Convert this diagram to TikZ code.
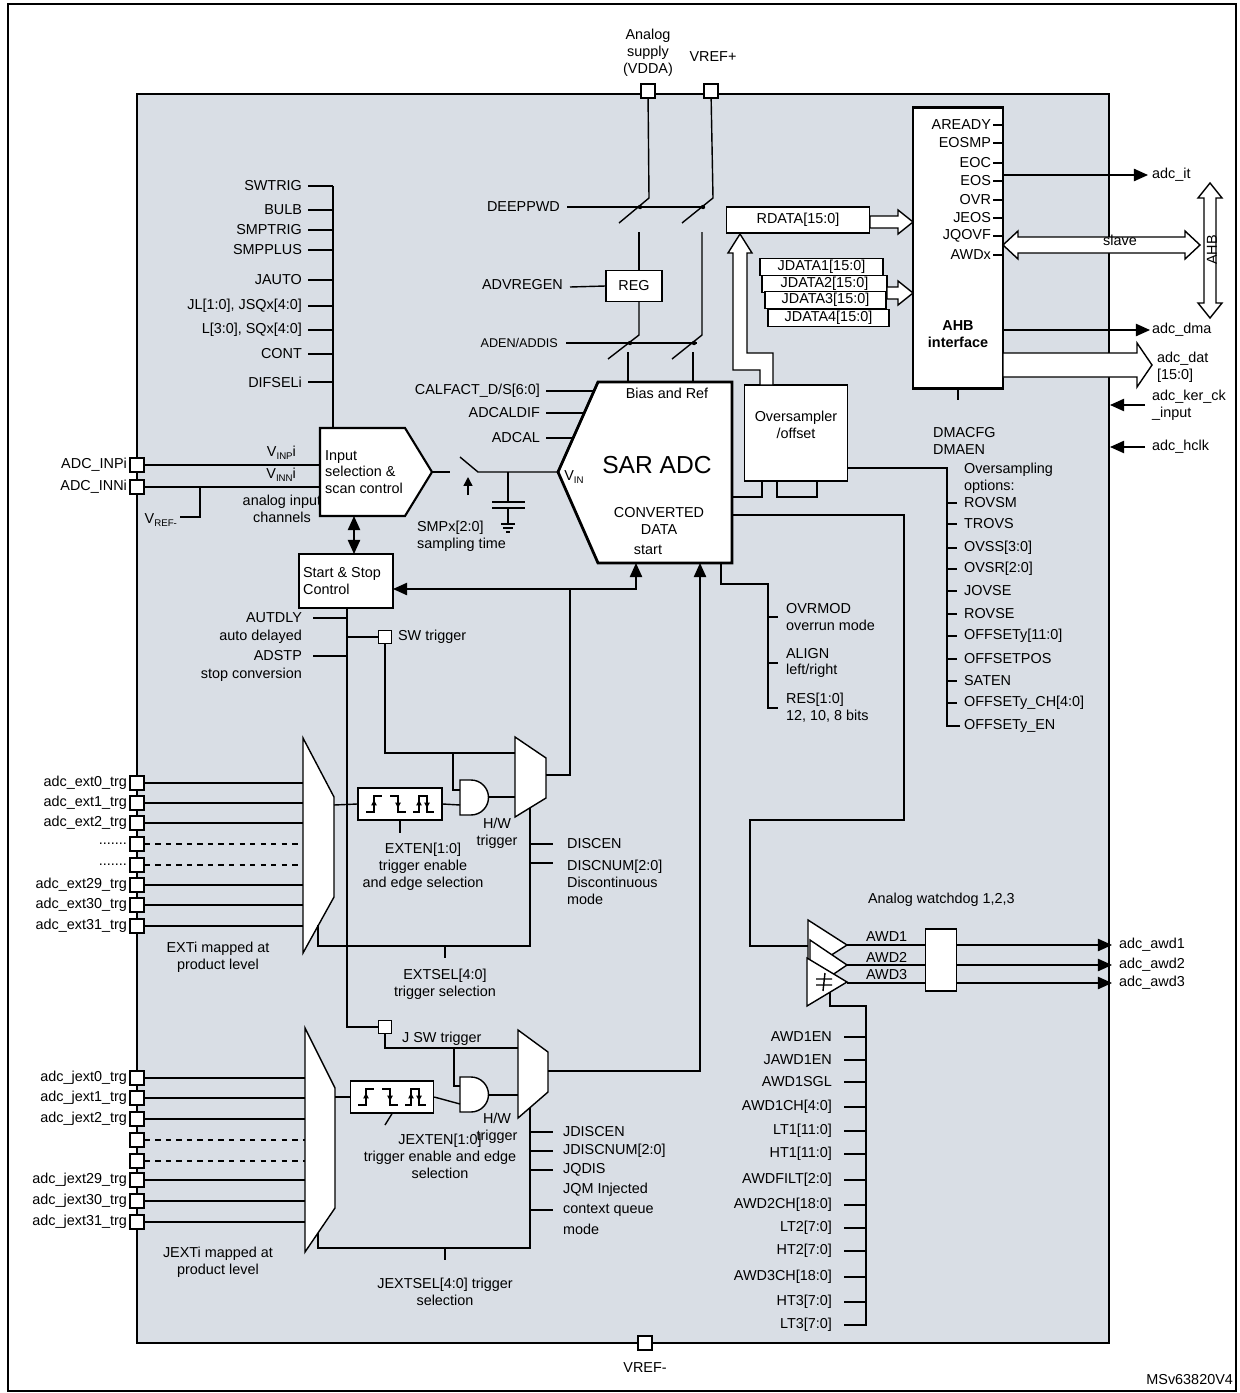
\documentclass[tikz,border=0pt]{standalone}
\usepackage{fontspec}
\setmainfont{Liberation Sans}
\usetikzlibrary{arrows.meta,positioning,calc}
\definecolor{adcgrey}{RGB}{217,222,229}
\tikzset{
    every node/.style={font=\fontsize{8.2}{9.6}\selectfont, inner sep=1pt},
    wire/.style={line width=0.8pt},
    blk/.style={draw, fill=white, line width=1.2pt},
    reg/.style={draw, fill=white, line width=0.8pt, inner sep=0pt},
    pinbox/.style={draw, fill=white, line width=0.8pt, minimum size=0.28cm, inner sep=0pt},
    sig/.style={wire, -{Triangle[length=8pt,width=7pt]}},
    tip/.style={line width=0.6pt, -{Triangle[length=3pt,width=3pt]}},
    bus/.style={draw, fill=white, line width=0.8pt}
}
% hollow bus arrows: x1, x2, y, shaft half width, head half width
\newcommand{\busright}[5]{\draw[bus] (#1,#3-#4) -- (#2-15,#3-#4) -- (#2-15,#3-#5) -- (#2,#3) -- (#2-15,#3+#5) -- (#2-15,#3+#4) -- (#1,#3+#4) -- cycle;}
\newcommand{\busboth}[5]{\draw[bus] (#1,#3) -- (#1+15,#3-#5) -- (#1+15,#3-#4) -- (#2-15,#3-#4) -- (#2-15,#3-#5) -- (#2,#3) -- (#2-15,#3+#5) -- (#2-15,#3+#4) -- (#1+15,#3+#4) -- (#1+15,#3+#5) -- cycle;}
\newcommand{\busvert}[5]{\draw[bus] (#1,#2) -- (#1+#5,#2+15) -- (#1+#4,#2+15) -- (#1+#4,#3-15) -- (#1+#5,#3-15) -- (#1,#3) -- (#1-#5,#3-15) -- (#1-#4,#3-15) -- (#1-#4,#2+15) -- (#1-#5,#2+15) -- cycle;}
% gates and edge marks
\newcommand{\andgate}[2]{\draw[bus] (#1,#2) -- ++(11,0) arc[start angle=90, end angle=-90, radius=0.35cm] -- ++(-11,0) -- cycle;}
\newcommand{\edgemarks}[2]{
    \begin{scope}[shift={(#1,#2)}]
    \draw[wire] (0,8) -- (8,8) -- (8,-8) -- (16,-8);
    \draw[wire] (24,-8) -- (32,-8) -- (32,8) -- (40,8);
    \draw[wire] (47,8) -- (53,8) -- (53,-8) -- (61,-8) -- (61,8) -- (68,8);
    \draw[tip] (8,5) -- (8,-4);
    \draw[tip] (32,-5) -- (32,4);
    \draw[tip] (53,5) -- (53,-4);
    \draw[tip] (61,-5) -- (61,4);
    \end{scope}
}
\newcommand{\dotrow}{.......}

\begin{document}
\begin{tikzpicture}[x=0.02cm, y=-0.02cm]
    \useasboundingbox (0,0) rectangle (1240,1393);
    \draw[line width=1pt] (8,4) rectangle (1236,1391);
    \draw[line width=1.6pt, fill=adcgrey] (137,94) rectangle (1109,1343);
    \node[anchor=east] at (1235,1380) {MSv63820V4};

    % supply pins
    \node[pinbox] (vdda) at (648,91) {};
    \node[pinbox] (vrefp) at (711,91) {};
    \node[pinbox] (vrefm) at (645,1343) {};
    \node[align=center] at (648,53) {Analog\\supply\\(VDDA)};
    \node at (713,57) {VREF+};
    \node at (645,1368) {VREF-};

    % power switches
    \draw[wire] (567,207) -- (705,207);
    \draw[wire] (566,343) -- (697,343);
    \node[anchor=east] at (562,207) {DEEPPWD};
    \node[anchor=east, font=\fontsize{7.2}{8}\selectfont] at (560,343) {ADEN/ADDIS};
    \node[reg, minimum width=1.12cm, minimum height=0.62cm] (regu) at (634,286) {REG};
    \node[anchor=east] at (565,285) {ADVREGEN};
    \draw[wire] (570,287) -- (regu.west);
    \draw[wire] (vdda) -- (649,198) -- (619,223);
    \draw[wire] (vrefp) -- (713,198) -- (682,223);
    \draw[wire] (639,232) -- (639,271);
    \draw[wire] (639,302) -- (639,335) -- (608,359);
    \draw[wire] (702,232) -- (702,335) -- (672,359);
    \draw[wire] (628,352) -- (628,382);
    \draw[wire] (693,352) -- (693,382);
    \foreach \x/\y in {640/207, 703/207, 630/343, 694/343}
        \fill (\x,\y) circle (2.2);

    % control inputs of the scan logic
    \draw[wire] (333,186) -- (333,428);
    \foreach \y/\t in {186/SWTRIG, 210/BULB, 230/SMPTRIG, 250/SMPPLUS, 280/JAUTO,
                       306/{JL[1:0], JSQx[4:0]}, 330/{L[3:0], SQx[4:0]}, 354/CONT, 382/DIFSELi}{
        \draw[wire] (308,\y) -- (333,\y);
        \node[anchor=east] at (304,\y) {\t};
    }

    % analog inputs
    \node[pinbox] (inp) at (137,465) {};
    \node[pinbox] (inn) at (137,487) {};
    \node[anchor=east] at (129,465) {ADC\_INPi};
    \node[anchor=east] at (129,487) {ADC\_INNi};
    \draw[blk] (320,428) -- (405,428) -- (432,472) -- (405,516) -- (320,516) -- cycle;
    \node[anchor=west, align=left] (insel) at (323,472) {Input\\selection \&\\scan control};
    \draw[wire] (inp) -- (320,465);
    \draw[wire] (inn) -- (320,487);
    \draw[wire] (200,487) -- (200,517) -- (180,517);
    \node[anchor=east] at (179,520) {V\raisebox{-0.4ex}{\fontsize{5.5}{6}\selectfont REF-}};
    \node[anchor=east] at (298,453) {V\raisebox{-0.4ex}{\fontsize{5.5}{6}\selectfont INP}i};
    \node[anchor=east] at (298,475) {V\raisebox{-0.4ex}{\fontsize{5.5}{6}\selectfont INN}i};
    \node[align=center] at (282,509) {analog input\\channels};

    % sampling switch and capacitor
    \draw[wire] (432,472) -- (450,472);
    \draw[wire] (460,457) -- (478,472) -- (558,472);
    \draw[line width=0.8pt, -{Triangle[length=5pt,width=5pt]}] (468,495) -- (468,477);
    \draw[wire] (508,472) -- (508,502);
    \draw[wire] (492,502) -- (525,502);
    \draw[wire] (492,508) -- (525,508) (508,508) -- (508,524);
    \draw[wire] (501,524) -- (515,524) (503,528) -- (513,528) (506,532) -- (510,532);
    \node[anchor=west, align=left] at (415,536) {SMPx[2:0]\\sampling time};

    % SAR ADC
    \draw[blk, line width=1.6pt] (598,382) -- (732,382) -- (732,563) -- (598,563) -- (558,472) -- cycle;
    \node at (667,393) {Bias and Ref};
    \node[font=\fontsize{14}{16}\selectfont] (sar) at (657,465) {SAR ADC};
    \node at (574,477) {V\raisebox{-0.4ex}{\fontsize{5.5}{6}\selectfont IN}};
    \node[align=center] at (659,521) {CONVERTED\\DATA};
    \node at (648,550) {start};
    \foreach \y/\x/\t in {391/594/{CALFACT\_D/S[6:0]}, 413/584/ADCALDIF, 438/573/ADCAL}{
        \draw[wire] (546,\y) -- (\x,\y);
        \node[anchor=east] at (542,\y) {\t};
    }

    % start and stop control
    \node[blk, line width=1.2pt, minimum width=1.88cm, minimum height=1.08cm] (ssc) at (346,581) {};
    \node[anchor=west, align=left] at (301,581) {Start \& Stop\\Control};
    \draw[wire, {Triangle[length=8pt,width=7pt]}-{Triangle[length=8pt,width=7pt]}] (354,516) -- (354,554);
    \draw[sig] (570,589) -- (393,589);
    \draw[sig] (570,589) -| (636,563);
    \draw[wire] (347,608) -- (347,1027) -- (378,1027);
    \draw[wire] (313,618) -- (347,618);
    \draw[wire] (313,656) -- (347,656);
    \foreach \y/\t in {618/AUTDLY, 637/auto delayed, 656/ADSTP, 675/stop conversion}
        \node[anchor=east] at (304,\y) {\t};
    \node[pinbox, minimum size=0.26cm] (swt) at (385,637) {};
    \draw[wire] (347,637) -- (swt);
    \node[anchor=west] at (396,637) {SW trigger};

    % regular trigger path
    \foreach \i/\y/\t/\s in {0/783/adc\_ext0\_trg/solid, 1/803/adc\_ext1\_trg/solid, 2/823/adc\_ext2\_trg/solid,
                             3/844/\dotrow/dashed, 4/865/\dotrow/dashed, 29/885/adc\_ext29\_trg/solid,
                             30/905/adc\_ext30\_trg/solid, 31/926/adc\_ext31\_trg/solid}{
        \node[pinbox] (ext\i) at (137,\y) {};
        \node[anchor=east] at (129,\y) {\t};
        \draw[wire, \s] (ext\i) -- (303,\y);
    }
    \draw[bus] (303,738) -- (334,797) -- (334,897) -- (303,953) -- cycle;
    \node[align=center] at (218,957) {EXTi mapped at\\product level};
    \node[reg, minimum width=1.68cm, minimum height=0.64cm] (edge) at (400,804) {};
    \edgemarks{366}{804}
    \draw[wire] (334,805) -- (edge.west);
    \andgate{460}{780}
    \draw[wire] (edge.east) -- (460,805);
    \draw[bus] (515,737) -- (546,758) -- (546,798) -- (515,817) -- cycle;
    \draw[wire] (swt) -- (385,753) -- (515,753);
    \draw[wire] (453,753) -- (453,790) -- (460,790);
    \draw[wire] (488,797) -- (515,797);
    \draw[wire] (546,775) -- (570,775) -- (570,589);
    \draw[wire] (edge.south) -- (400,833);
    \node[align=center] at (423,867) {EXTEN[1:0]\\trigger enable\\and edge selection};
    \node[align=center] at (497,833) {H/W\\trigger};
    \draw[wire] (530,808) -- (530,946) -- (318,946) -- (318,925);
    \draw[wire] (445,946) -- (445,958);
    \node[align=center] at (445,984) {EXTSEL[4:0]\\trigger selection};
    \draw[wire] (530,844) -- (553,844);
    \draw[wire] (530,863) -- (553,863);
    \node[anchor=west] at (565,844) {DISCEN};
    \node[anchor=west, align=left] at (565,882) {DISCNUM[2:0]\\Discontinuous\\mode};

    % injected trigger path
    \foreach \i/\y/\t/\s in {0/1078/adc\_jext0\_trg/solid, 1/1098/adc\_jext1\_trg/solid, 2/1119/adc\_jext2\_trg/solid,
                             3/1140/{}/dashed, 4/1161/{}/dashed, 29/1180/adc\_jext29\_trg/solid,
                             30/1201/adc\_jext30\_trg/solid, 31/1222/adc\_jext31\_trg/solid}{
        \node[pinbox] (jext\i) at (137,\y) {};
        \node[anchor=east] at (129,\y) {\t};
        \draw[wire, \s] (jext\i) -- (305,\y);
    }
    \draw[bus] (305,1028) -- (335,1088) -- (335,1208) -- (305,1252) -- cycle;
    \node[align=center] at (218,1262) {JEXTi mapped at\\product level};
    \node[pinbox, minimum size=0.26cm] (jswt) at (385,1027) {};
    \node[anchor=west] at (400,1039) {J SW trigger};
    \node[reg, minimum width=1.66cm, minimum height=0.64cm] (jedge) at (392,1097) {};
    \edgemarks{358}{1097}
    \draw[wire] (335,1097) -- (jedge.west);
    \andgate{460}{1077}
    \draw[wire] (jedge.east) -- (460,1104);
    \draw[bus] (518,1030) -- (548,1052) -- (548,1092) -- (518,1118) -- cycle;
    \draw[wire] (jswt) -- (385,1048) -- (518,1048);
    \draw[wire] (454,1048) -- (454,1086) -- (460,1086);
    \draw[wire] (488,1095) -- (518,1095);
    \draw[sig] (548,1071) -| (700,563);
    \draw[wire] (jedge.south) -- (385,1125);
    \node[align=center] at (440,1156) {JEXTEN[1:0]\\trigger enable and edge\\selection};
    \node[align=center] at (497,1128) {H/W\\trigger};
    \draw[wire] (530,1108) -- (530,1248) -- (318,1248) -- (318,1233);
    \draw[wire] (445,1248) -- (445,1260);
    \node[align=center] at (445,1292) {JEXTSEL[4:0] trigger\\selection};
    \foreach \y in {1132, 1151, 1170, 1210}
        \draw[wire] (530,\y) -- (553,\y);
    \foreach \y/\t in {1132/JDISCEN, 1151/JDISCNUM[2:0], 1170/JQDIS, 1190/JQM Injected, 1210/context queue, 1229/mode}
        \node[anchor=west] at (561,\y) {\t};

    % data results
    \draw[wire] (721,563) -- (721,584) -- (768,584) -- (768,708) -- (778,708);
    \foreach \y in {617, 663}
        \draw[wire] (768,\y) -- (778,\y);
    \node[anchor=west, align=left] at (784,617) {OVRMOD\\overrun mode};
    \node[anchor=west, align=left] at (784,663) {ALIGN\\left/right};
    \node[anchor=west, align=left] at (784,708) {RES[1:0]\\12, 10, 8 bits};

    % oversampler
    \node[reg, minimum width=2.06cm, minimum height=1.92cm] (ovs) at (796,433) {};
    \node[align=center] at (796,425) {Oversampler\\/offset};
    \draw[wire] (732,497) -- (762,497) -- (762,481);
    \draw[wire] (777,481) -- (777,497) -- (817,497) -- (817,481);
    \draw[bus] (740,234) -- (752,253) -- (747,253) -- (747,353) -- (773,353) -- (773,385)
        -- (760,385) -- (760,370) -- (733,370) -- (733,253) -- (728,253) -- cycle;
    \draw[wire] (848,468) -- (947,468) -- (947,726) -- (960,726);
    \node[anchor=west, align=left] at (962,478) {Oversampling\\options:};
    \foreach \y/\t in {503/ROVSM, 524/TROVS, 548/{OVSS[3:0]}, 569/{OVSR[2:0]}, 591/JOVSE, 614/ROVSE,
                       636/{OFFSETy[11:0]}, 659/OFFSETPOS, 681/SATEN, 703/{OFFSETy\_CH[4:0]}, 726/OFFSETy\_EN}{
        \draw[wire] (947,\y) -- (957,\y);
        \node[anchor=west] at (962,\y) {\t};
    }

    % data registers and AHB interface
    \node[reg, minimum width=2.86cm, minimum height=0.52cm] (rdata) at (798,220) {RDATA[15:0]};
    \foreach \i/\xa/\xb/\y in {1/760/883/267, 2/762/887/284, 3/765/886/300, 4/768/889/318}
        \draw[reg] (\xa,\y-8.5) rectangle (\xb,\y+8.5) node[midway] (jdata\i) {JDATA\i[15:0]};
    \node[blk, line width=1.4pt, minimum width=1.8cm, minimum height=5.62cm] (ahb) at (958,248) {};
    \node[font=\fontsize{8.2}{9.6}\selectfont\bfseries, align=center] at (958,334) {AHB\\interface};
    \foreach \y/\t in {125/AREADY, 143/EOSMP, 163/EOC, 181/EOS, 200/OVR, 218/JEOS, 236/JQOVF, 255/AWDx}{
        \draw[wire] (993,\y) -- (1003,\y);
        \node[anchor=east] at (993,\y) {\t};
    }
    \busright{870}{913}{222}{6}{12}
    \busright{887}{913}{293}{6}{12}
    \draw[sig] (1003,175) -- (1148,175);
    \node[anchor=west] at (1150,175) {adc\_it};
    \busboth{1003}{1200}{245}{8}{14}
    \node at (1120,240) {slave};
    \busvert{1210}{183}{318}{6}{12}
    \node[rotate=90] at (1212,250) {AHB};
    \draw[sig] (1003,330) -- (1150,330);
    \node[anchor=west] at (1150,330) {adc\_dma};
    \busright{1003}{1152}{365}{12}{22}
    \node[anchor=west, align=left] at (1155,367) {adc\_dat\\{}[15:0]};
    \draw[sig] (1145,405) -- (1110,405);
    \node[anchor=west, align=left] at (1150,405) {adc\_ker\_ck\\\_input};
    \draw[sig] (1145,447) -- (1110,447);
    \node[anchor=west] at (1150,447) {adc\_hclk};
    \draw[wire] (958,389) -- (958,400);
    \node[anchor=west, align=left] at (931,441) {DMACFG\\DMAEN};

    % analog watchdogs
    \draw[wire] (732,515) -- (904,515) -- (904,820) -- (750,820) -- (750,946) -- (808,946);
    \draw[bus] (808,920) -- (847,945) -- (808,970) -- cycle;
    \draw[bus] (810,940) -- (847,965) -- (810,990) -- cycle;
    \draw[bus] (807,958) -- (847,982) -- (807,1006) -- cycle;
    \draw[wire] (816,979) -- (832,979) (816,985) -- (832,985) (825,973) -- (823,991);
    \node[anchor=west] at (866,900) {Analog watchdog 1,2,3};
    \node[reg, minimum width=0.62cm, minimum height=1.24cm] (awdl) at (941,960) {};
    \foreach \i/\y in {1/945, 2/965, 3/983}{
        \draw[wire] (847,\y) -- (926,\y);
        \node[anchor=west] at (864,\y-8) {AWD\i};
        \draw[sig] (957,\y) -- (1112,\y);
        \node[anchor=west] at (1117,\y) {adc\_awd\i};
    }
    \draw[wire] (830,992) -- (830,1006) -- (866,1006) -- (866,1325) -- (844,1325);
    \foreach \y/\t in {1037/AWD1EN, 1060/JAWD1EN, 1082/AWD1SGL, 1107/{AWD1CH[4:0]}, 1131/{LT1[11:0]},
                       1154/{HT1[11:0]}, 1180/{AWDFILT[2:0]}, 1205/{AWD2CH[18:0]}, 1228/{LT2[7:0]},
                       1251/{HT2[7:0]}, 1277/{AWD3CH[18:0]}, 1302/{HT3[7:0]}, 1325/{LT3[7:0]}}{
        \draw[wire] (844,\y) -- (866,\y);
        \node[anchor=east] at (834,\y) {\t};
    }
\end{tikzpicture}
\end{document}
